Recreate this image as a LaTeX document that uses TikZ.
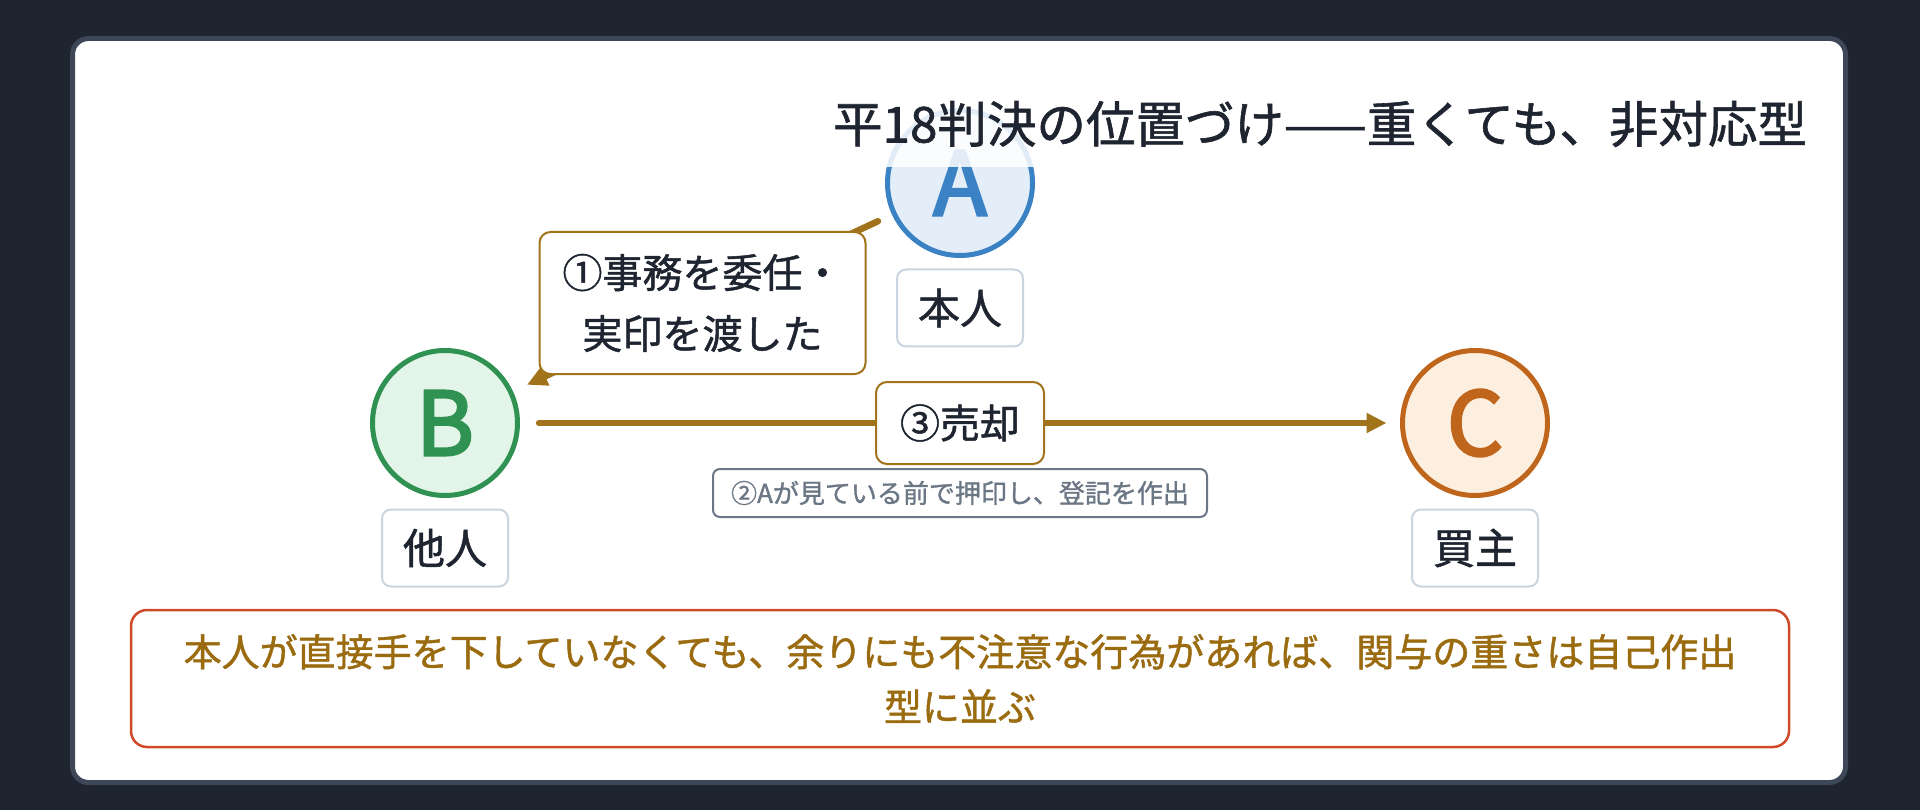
\documentclass[tikz,border=0pt]{standalone}
\usepackage{fontspec}
\setmainfont{Noto Sans CJK JP}[FakeBold=1.2]
\newfontfamily\letterfont{Noto Sans CJK JP}[FakeBold=3]
\usetikzlibrary{arrows.meta}
\usetikzlibrary{positioning}
\definecolor{pagebg}{HTML}{1E2530}
\definecolor{cardedge}{HTML}{3D4757}
\definecolor{ink}{HTML}{1E2530}
\definecolor{gold}{HTML}{A1731A}
\definecolor{goldtext}{HTML}{9B6B10}
\definecolor{alert}{HTML}{D04A2A}
\definecolor{tagedge}{HTML}{CBD5E1}
\definecolor{slate}{HTML}{6B7785}
\definecolor{blueedge}{HTML}{3A82C4}
\definecolor{bluefill}{HTML}{E4EEF9}
\definecolor{greenedge}{HTML}{2F9152}
\definecolor{greenfill}{HTML}{E3F5E8}
\definecolor{orangeedge}{HTML}{C0651C}
\definecolor{orangefill}{HTML}{FDEFE0}
\tikzstyle{party} = [circle, line width=5pt, minimum size=145pt, inner sep=0pt,
                     font=\letterfont\fontsize{88}{88}\selectfont]
\tikzstyle{role} = [rectangle, rounded corners=9pt, draw=tagedge, line width=2pt, fill=white,
                    text=ink, minimum width=126pt, minimum height=77pt, inner sep=0pt,
                    font=\fontsize{42}{42}\selectfont]
\tikzstyle{deal} = [line width=6.5pt, draw=gold, line cap=round, -{Triangle[length=20pt,width=19pt]}]
\tikzstyle{steplabel} = [rectangle, rounded corners=11pt, draw=gold, line width=2pt, fill=white,
                         text=ink, align=center, inner sep=0pt, font=\fontsize{40}{61}\selectfont]
\tikzstyle{note} = [rectangle, rounded corners=7pt, draw=slate, line width=2pt, fill=white,
                    text=slate, minimum width=494pt, minimum height=48pt, inner sep=0pt,
                    font=\fontsize{26}{26}\selectfont]
\tikzstyle{summary} = [rectangle, rounded corners=16pt, draw=alert, line width=2.5pt, fill=white,
                       text=goldtext, align=center, minimum width=1658pt, minimum height=137pt,
                       inner sep=0pt, font=\fontsize{38}{55}\selectfont]
\tikzstyle{heading} = [rectangle, fill=white, fill opacity=0.85, text opacity=1, text=ink,
                       minimum height=86pt, inner xsep=6pt, font=\fontsize{49.5}{49.5}\selectfont]
\begin{document}
\begin{tikzpicture}[x=1pt,y=-1pt]
    \useasboundingbox (0,0) rectangle (1920,810);
    \fill[pagebg] (0,0) rectangle (1920,810);
    \draw[cardedge, line width=5pt, fill=white, rounded corners=16pt] (72.5,38.5) rectangle (1845.5,782.5);
    \node[party, draw=blueedge, fill=bluefill, text=blueedge] (owner) at (960,183) {A};
    \node[party, draw=greenedge, fill=greenfill, text=greenedge] (other) at (445,423) {B};
    \node[party, draw=orangeedge, fill=orangefill, text=orangeedge] (buyer) at (1475,423) {C};
    \node[role] (ownertag) [below of=owner, node distance=125pt] {本人};
    \node[role] (othertag) [below of=other, node distance=125pt] {他人};
    \node[role] (buyertag) [below of=buyer, node distance=125pt] {買主};
    \draw[deal, shorten <=15.5pt, shorten >=15.5pt] (owner) -- node[steplabel, minimum width=326pt, minimum height=142pt] (entrust) {①事務を委任・\\実印を渡した} (other);
    \draw[deal, shorten <=19pt, shorten >=13.5pt] (other) -- node[steplabel, minimum width=168pt, minimum height=82pt] (sale) {③売却} (buyer);
    \node[note] (witness) [below of=sale, node distance=70pt] {②Aが見ている前で押印し、登記を作出};
    \node[summary] (moral) at (960,678.5) {本人が直接手を下していなくても、余りにも不注意な行為があれば、関与の重さは自己作出\\型に並ぶ};
    \node[heading] (title) at (1320,124) {平18判決の位置づけ——重くても、非対応型};
\end{tikzpicture}
\end{document}
